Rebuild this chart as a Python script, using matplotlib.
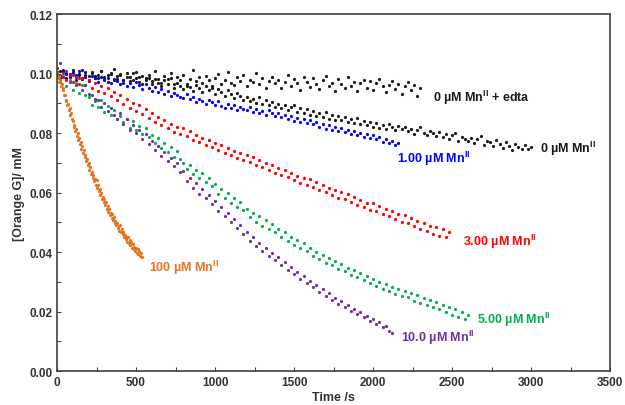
import numpy as np
import matplotlib
matplotlib.use("Agg")
import matplotlib.pyplot as plt

plt.rcParams["font.family"] = ["Liberation Sans", "DejaVu Sans"]
plt.rcParams["mathtext.fontset"] = "custom"
plt.rcParams["mathtext.rm"] = "Liberation Sans:bold"
plt.rcParams["mathtext.bf"] = "Liberation Sans:bold"

# sampling interval (s) of each trace
dt_slow = 20
dt_fast = 5

# [Orange G] / mM
edta_0 = [
    0.1002, 0.0991, 0.1010, 0.0985, 0.0998, 0.1005, 0.0979, 0.0996, 0.1012, 0.0988,
    0.0975, 0.1003, 0.0992, 0.0984, 0.1008, 0.0990, 0.0972, 0.0999, 0.1015, 0.0981,
    0.0994, 0.0968, 0.1001, 0.0987, 0.0979, 0.1006, 0.0990, 0.0964, 0.0985, 0.0997,
    0.0976, 0.1009, 0.0983, 0.0970, 0.0992, 0.0981, 0.1003, 0.0965, 0.0988, 0.0977,
    0.0995, 0.0960, 0.0982, 0.1011, 0.0974, 0.0987, 0.0969, 0.0993, 0.0979, 0.0958,
    0.0984, 0.0998, 0.0966, 0.0977, 0.1006, 0.0970, 0.0962, 0.0989, 0.0975, 0.0996,
    0.0957, 0.0980, 0.0971, 0.1002, 0.0964, 0.0985, 0.0953, 0.0976, 0.0990, 0.0968,
    0.0979, 0.0951, 0.0973, 0.0996, 0.0960, 0.0981, 0.0967, 0.0945, 0.0988, 0.0972,
    0.0955, 0.0984, 0.0966, 0.0949, 0.0978, 0.0992, 0.0958, 0.0970, 0.0943, 0.0981,
    0.0964, 0.0950, 0.0987, 0.0959, 0.0972, 0.0941, 0.0968, 0.0979, 0.0952, 0.0975,
    0.0946, 0.0969, 0.0983, 0.0957, 0.0938, 0.0961, 0.0975, 0.0948, 0.0966, 0.0932,
    0.0958, 0.0971, 0.0944, 0.0962, 0.0925, 0.0953,
]
mn_0 = [
    0.0995, 0.1008, 0.0987, 0.1001, 0.0993, 0.1012, 0.0990, 0.0998, 0.0983, 0.1004,
    0.0991, 0.1006, 0.0985, 0.0997, 0.1009, 0.0982, 0.0994, 0.1001, 0.0978, 0.0992,
    0.0999, 0.0980, 0.0990, 0.0975, 0.1003, 0.0984, 0.0971, 0.0992, 0.0979, 0.0986,
    0.0964, 0.0981, 0.0970, 0.0958, 0.0977, 0.0966, 0.0984, 0.0953, 0.0969, 0.0960,
    0.0949, 0.0965, 0.0955, 0.0943, 0.0961, 0.0950, 0.0937, 0.0958, 0.0946, 0.0952,
    0.0931, 0.0947, 0.0938, 0.0925, 0.0944, 0.0930, 0.0919, 0.0936, 0.0926, 0.0912,
    0.0921, 0.0908, 0.0915, 0.0902, 0.0923, 0.0897, 0.0910, 0.0894, 0.0904, 0.0889,
    0.0899, 0.0885, 0.0893, 0.0878, 0.0887, 0.0896, 0.0872, 0.0883, 0.0869, 0.0880,
    0.0861, 0.0874, 0.0858, 0.0867, 0.0853, 0.0871, 0.0849, 0.0860, 0.0845, 0.0856,
    0.0843, 0.0855, 0.0838, 0.0847, 0.0834, 0.0850, 0.0829, 0.0841, 0.0826, 0.0838,
    0.0822, 0.0835, 0.0818, 0.0827, 0.0813, 0.0831, 0.0820, 0.0809, 0.0824, 0.0815,
    0.0819, 0.0806, 0.0814, 0.0798, 0.0811, 0.0821, 0.0802, 0.0795, 0.0808, 0.0799,
    0.0790, 0.0804, 0.0786, 0.0796, 0.0779, 0.0792, 0.0801, 0.0775, 0.0788, 0.0781,
    0.0772, 0.0785, 0.0766, 0.0779, 0.0790, 0.0761, 0.0774, 0.0769, 0.0757, 0.0778,
    0.0762, 0.0750, 0.0771, 0.0756, 0.0744, 0.0765, 0.0753, 0.0748, 0.0759, 0.0745,
    0.0752,
]
mn_1 = [
    0.1005, 0.0992, 0.1011, 0.0998, 0.0987, 0.1003, 0.0995, 0.1009, 0.0984, 0.0997,
    0.0980, 0.0993, 0.0985, 0.0972, 0.0990, 0.0978, 0.0986, 0.0969, 0.0981, 0.0975,
    0.0964, 0.0977, 0.0959, 0.0968, 0.0955, 0.0973, 0.0961, 0.0949, 0.0966, 0.0952,
    0.0943, 0.0956, 0.0938, 0.0947, 0.0932, 0.0941, 0.0925, 0.0936, 0.0929, 0.0920,
    0.0918, 0.0930, 0.0913, 0.0921, 0.0906, 0.0915, 0.0909, 0.0897, 0.0911, 0.0903,
    0.0895, 0.0907, 0.0890, 0.0883, 0.0899, 0.0886, 0.0893, 0.0879, 0.0888, 0.0882,
    0.0877, 0.0889, 0.0872, 0.0880, 0.0868, 0.0875, 0.0862, 0.0879, 0.0866, 0.0859,
    0.0868, 0.0853, 0.0860, 0.0847, 0.0856, 0.0842, 0.0851, 0.0838, 0.0848, 0.0835,
    0.0843, 0.0829, 0.0836, 0.0821, 0.0832, 0.0815, 0.0826, 0.0812, 0.0820, 0.0808,
    0.0817, 0.0803, 0.0811, 0.0797, 0.0806, 0.0793, 0.0801, 0.0786, 0.0798, 0.0784,
    0.0793, 0.0779, 0.0786, 0.0771, 0.0780, 0.0766, 0.0774, 0.0760, 0.0768,
]
mn_3 = [
    0.1003, 0.0985, 0.1001, 0.0979, 0.0996, 0.0972, 0.0990, 0.0966, 0.0984, 0.0961,
    0.0978, 0.0952, 0.0969, 0.0943, 0.0960, 0.0935, 0.0951, 0.0926, 0.0939, 0.0910,
    0.0928, 0.0898, 0.0915, 0.0886, 0.0902, 0.0874, 0.0893, 0.0865, 0.0880, 0.0852,
    0.0866, 0.0838, 0.0855, 0.0826, 0.0843, 0.0818, 0.0832, 0.0805, 0.0821, 0.0796,
    0.0818, 0.0789, 0.0806, 0.0778, 0.0795, 0.0769, 0.0784, 0.0760, 0.0776, 0.0752,
    0.0768, 0.0742, 0.0759, 0.0733, 0.0750, 0.0726, 0.0741, 0.0716, 0.0733, 0.0708,
    0.0727, 0.0702, 0.0718, 0.0693, 0.0709, 0.0686, 0.0700, 0.0676, 0.0692, 0.0667,
    0.0684, 0.0660, 0.0675, 0.0651, 0.0667, 0.0642, 0.0657, 0.0633, 0.0649, 0.0624,
    0.0644, 0.0618, 0.0634, 0.0609, 0.0626, 0.0601, 0.0617, 0.0592, 0.0607, 0.0583,
    0.0603, 0.0578, 0.0594, 0.0568, 0.0585, 0.0559, 0.0575, 0.0551, 0.0566, 0.0542,
    0.0566, 0.0538, 0.0556, 0.0529, 0.0546, 0.0520, 0.0537, 0.0511, 0.0527, 0.0502,
    0.0523, 0.0497, 0.0514, 0.0488, 0.0505, 0.0479, 0.0497, 0.0470, 0.0488, 0.0462,
    0.0484, 0.0455, 0.0476, 0.0449, 0.0468,
]
mn_5 = [
    0.0985, 0.0972, 0.0991, 0.0958, 0.0979, 0.0946, 0.0968, 0.0935, 0.0961, 0.0929,
    0.0922, 0.0896, 0.0908, 0.0887, 0.0912, 0.0870, 0.0891, 0.0862, 0.0879, 0.0848,
    0.0858, 0.0837, 0.0849, 0.0818, 0.0840, 0.0812, 0.0825, 0.0796, 0.0818, 0.0788,
    0.0795, 0.0768, 0.0782, 0.0749, 0.0766, 0.0738, 0.0752, 0.0721, 0.0740, 0.0712,
    0.0701, 0.0678, 0.0692, 0.0661, 0.0677, 0.0649, 0.0665, 0.0634, 0.0648, 0.0621,
    0.0628, 0.0596, 0.0611, 0.0582, 0.0598, 0.0565, 0.0581, 0.0553, 0.0569, 0.0541,
    0.0546, 0.0518, 0.0533, 0.0502, 0.0520, 0.0489, 0.0507, 0.0478, 0.0494, 0.0466,
    0.0478, 0.0451, 0.0466, 0.0437, 0.0452, 0.0425, 0.0440, 0.0415, 0.0431, 0.0403,
    0.0412, 0.0388, 0.0401, 0.0375, 0.0390, 0.0364, 0.0381, 0.0357, 0.0370, 0.0344,
    0.0359, 0.0336, 0.0348, 0.0322, 0.0340, 0.0315, 0.0329, 0.0305, 0.0321, 0.0297,
    0.0310, 0.0287, 0.0301, 0.0276, 0.0292, 0.0268, 0.0283, 0.0259, 0.0275, 0.0252,
    0.0270, 0.0248, 0.0261, 0.0236, 0.0255, 0.0230, 0.0246, 0.0221, 0.0239, 0.0215,
    0.0232, 0.0207, 0.0223, 0.0198, 0.0216, 0.0190, 0.0208, 0.0183, 0.0199, 0.0176,
    0.0190,
]
mn_10 = [
    0.1018, 0.1035, 0.0990, 0.1010, 0.0972, 0.0996, 0.0961, 0.0984, 0.0945, 0.0962,
    0.0930, 0.0927, 0.0915, 0.0910, 0.0889, 0.0902, 0.0873, 0.0886, 0.0861, 0.0848,
    0.0866, 0.0829, 0.0848, 0.0812, 0.0828, 0.0800, 0.0809, 0.0779, 0.0797, 0.0765,
    0.0772, 0.0744, 0.0756, 0.0722, 0.0735, 0.0706, 0.0717, 0.0688, 0.0699, 0.0668,
    0.0671, 0.0638, 0.0650, 0.0617, 0.0631, 0.0596, 0.0612, 0.0582, 0.0591, 0.0562,
    0.0571, 0.0538, 0.0552, 0.0520, 0.0531, 0.0501, 0.0512, 0.0480, 0.0490, 0.0462,
    0.0468, 0.0438, 0.0449, 0.0422, 0.0430, 0.0404, 0.0413, 0.0388, 0.0397, 0.0372,
    0.0382, 0.0355, 0.0366, 0.0340, 0.0350, 0.0325, 0.0332, 0.0310, 0.0318, 0.0296,
    0.0304, 0.0281, 0.0290, 0.0266, 0.0275, 0.0252, 0.0262, 0.0240, 0.0247, 0.0226,
    0.0234, 0.0214, 0.0221, 0.0203, 0.0210, 0.0191, 0.0198, 0.0180, 0.0186, 0.0169,
    0.0175, 0.0158, 0.0164, 0.0147, 0.0152, 0.0136, 0.0128,
]
mn_100 = [
    0.1002, 0.0986, 0.0993, 0.0972, 0.0980, 0.0958, 0.0965, 0.0946, 0.0952, 0.0929,
    0.0928, 0.0908, 0.0912, 0.0893, 0.0899, 0.0876, 0.0885, 0.0861, 0.0869, 0.0847,
    0.0841, 0.0822, 0.0826, 0.0806, 0.0814, 0.0790, 0.0799, 0.0778, 0.0785, 0.0765,
    0.0771, 0.0747, 0.0756, 0.0733, 0.0742, 0.0718, 0.0728, 0.0705, 0.0713, 0.0692,
    0.0701, 0.0677, 0.0686, 0.0663, 0.0670, 0.0650, 0.0658, 0.0638, 0.0645, 0.0624,
    0.0641, 0.0616, 0.0625, 0.0604, 0.0612, 0.0591, 0.0599, 0.0580, 0.0586, 0.0568,
    0.0578, 0.0557, 0.0567, 0.0546, 0.0555, 0.0536, 0.0544, 0.0526, 0.0533, 0.0516,
    0.0529, 0.0507, 0.0517, 0.0499, 0.0506, 0.0490, 0.0498, 0.0481, 0.0488, 0.0472,
    0.0490, 0.0467, 0.0477, 0.0460, 0.0468, 0.0451, 0.0459, 0.0444, 0.0452, 0.0435,
    0.0450, 0.0429, 0.0439, 0.0423, 0.0433, 0.0414, 0.0427, 0.0409, 0.0418, 0.0404,
    0.0414, 0.0397, 0.0409, 0.0392, 0.0403, 0.0387, 0.0396, 0.0384,
]

# (values, dt, colour, label, label x, label y)
series = [
    (edta_0, dt_slow, "#1a1a1a", r"0 µM Mn$^{\mathrm{II}}$ + edta", 2380, 0.0921),
    (mn_0, dt_slow, "#1a1a1a", r"0 µM Mn$^{\mathrm{II}}$", 3057, 0.0750),
    (mn_1, dt_slow, "#0000ff", r"1.00 µM Mn$^{\mathrm{II}}$", 2152, 0.0716),
    (mn_3, dt_slow, "#ff0000", r"3.00 µM Mn$^{\mathrm{II}}$", 2570, 0.0437),
    (mn_5, dt_slow, "#00b050", r"5.00 µM Mn$^{\mathrm{II}}$", 2658, 0.0175),
    (mn_10, dt_slow, "#7030a0", r"10.0 µM Mn$^{\mathrm{II}}$", 2177, 0.0114),
    (mn_100, dt_fast, "#e8731a", r"100 µM Mn$^{\mathrm{II}}$", 582, 0.0350),
]

fig = plt.figure(figsize=(6.25, 4.06), dpi=100)
ax = fig.add_axes([0.0912, 0.0837, 0.885, 0.879])

for vals, dt, col, lab, lx, ly in series:
    t = np.arange(len(vals)) * dt
    ax.plot(t, vals, linestyle="none", marker="o", ms=2.3, mec="none", color=col)
    ax.text(lx, ly, lab, color=col, fontsize=9, fontweight="bold",
            ha="left", va="center")

ax.set_xlim(0, 3500)
ax.set_ylim(0, 0.12)
ax.set_xticks(np.arange(0, 3501, 500))
ax.set_xticks(np.arange(0, 3501, 250), minor=True)
ax.set_yticks(np.arange(0, 0.121, 0.02))
ax.set_yticks(np.arange(0, 0.121, 0.01), minor=True)
ax.yaxis.set_major_formatter(plt.FormatStrFormatter("%.2f"))
ax.tick_params(which="both", direction="in", length=3, width=0.8, color="#404040",
               labelsize=8.5, labelcolor="#333333")
for lbl in ax.get_xticklabels() + ax.get_yticklabels():
    lbl.set_fontweight("bold")

for sp in ax.spines.values():
    sp.set_color("#404040")
    sp.set_linewidth(1.2)

ax.set_xlabel("Time /s", fontsize=9, fontweight="bold", color="#333333", labelpad=2)
ax.set_ylabel("[Orange G]/ mM", fontsize=9, fontweight="bold", color="#333333", labelpad=3)

fig.savefig("out.png", dpi=100)
